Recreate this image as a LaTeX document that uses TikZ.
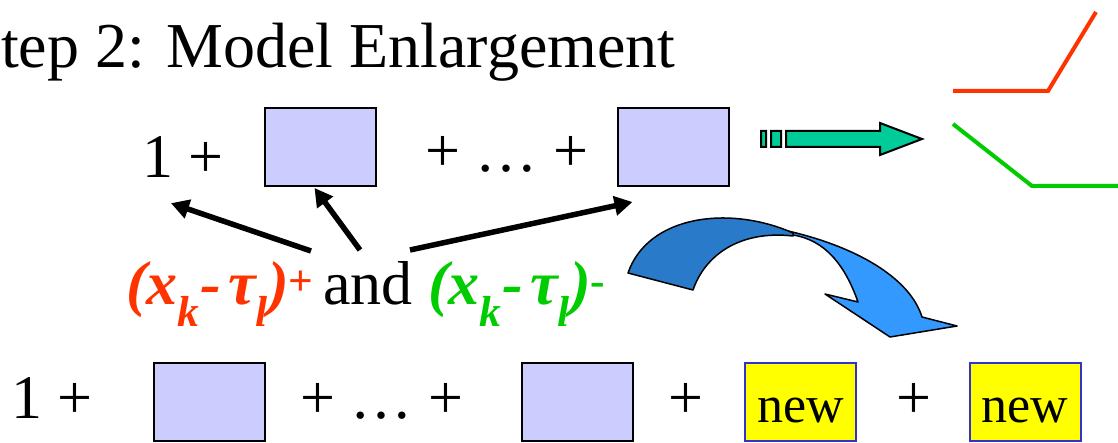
\documentclass[tikz,border=0pt]{standalone}
\usepackage{fontspec}
\setmainfont{Liberation Serif}
\usetikzlibrary{arrows.meta}
\definecolor{termfill}{HTML}{CCCCFF}
\definecolor{newedge}{HTML}{3333CC}
\definecolor{newfill}{HTML}{FFFF00}
\definecolor{exred}{HTML}{FF3300}
\definecolor{exgreen}{HTML}{00CC00}
\definecolor{teal}{HTML}{00CC99}
\definecolor{bluedark}{HTML}{2A7ACA}
\definecolor{bluelight}{HTML}{3399FF}
\newcommand{\hingeterm}[1]{{\bfseries\itshape (x\textsubscript{k}-\hspace{0.12em}τ\textsubscript{l})\textsuperscript{\upshape #1}}}
\begin{document}
\begin{tikzpicture}[x=1pt,y=-1pt,
  txt/.style={inner sep=0pt, anchor=base west, font=\fontsize{62}{70}\selectfont},
  term/.style={draw=black, line width=2pt, fill=termfill, minimum width=111pt, minimum height=78pt, inner sep=0pt},
  newterm/.style={draw=newedge, line width=2pt, fill=newfill, minimum width=111pt, inner sep=0pt,
     text height=59pt, text depth=19pt, anchor=base, font=\fontsize{52}{60}\selectfont},
  pointer/.style={line width=5.5pt, -{Triangle[length=18pt,width=19pt]}},
  hinge/.style={line width=4pt}
]
\useasboundingbox (0,0) rectangle (1118,443);

% title
\node[txt, font=\fontsize{64}{72}\selectfont] (title) at (1,68) {tep 2: Model Enlargement};

% top row
\node[txt] (topone) at (142,178) {1 +};
\node[term] (topbox1) at (320.5,147) {};
\node[txt] (topdots) at (425,172) {+ … +};
\node[term] (topbox2) at (673,147) {};

% teal arrow
\filldraw[fill=teal, draw=black, line width=2pt]
  (761,131) rectangle (766,147)
  (771,131) rectangle (781,147)
  (786,131) -- (880,131) -- (880,123) -- (922,139) -- (880,155) -- (880,147) -- (786,147) -- cycle;

% hinge functions
\draw[hinge, exred] (953,91) -- (1048,91) -- (1096,12);
\draw[hinge, exgreen] (953,124) -- (1032,186) -- (1118,186);

% middle expression
\node[txt, exred] (plus) at (126,305) {\hingeterm{+}};
\node[txt] (and) at (323,305) {and};
\node[txt, exgreen] (minus) at (428,305) {\hingeterm{-}};
\coordinate (t1) at (311,251);
\coordinate (t2) at (360,250);
\coordinate (t3) at (410,250);
\draw[pointer] (t1) -- ([xshift=-12pt,yshift=-25pt]topone.south);
\draw[pointer] (t2) -- ([xshift=-6pt,yshift=-1pt]topbox1.south);
\draw[pointer] (t3) -- ([xshift=16pt,yshift=-15pt]topbox2.south west);

% curved blue arrow
\filldraw[fill=bluelight, draw=black, line width=1.5pt, line join=round]
  (757,225) .. controls (840,238) and (908,272) .. (922,317)
  -- (957,326) -- (890,337) -- (825,294) -- (858,302)
  .. controls (845,265) and (825,240) .. (793,235) -- cycle;
\filldraw[fill=bluedark, draw=black, line width=1.5pt, line join=round]
  (628,273) .. controls (648,215) and (730,205) .. (793,233)
  -- (793,236) .. controls (740,230) and (705,255) .. (693,290) -- cycle;

% bottom row
\node[txt] (botone) at (11,418) {1 +};
\node[term] (botbox1) at (209,402) {};
\node[txt] (botdots) at (300,418) {+ … +};
\node[term] (botbox2) at (577,402) {};
\node[txt] (botplus1) at (668,418) {+};
\node[newterm] (new1) at (800.5,422) {new};
\node[txt] (botplus2) at (896,418) {+};
\node[newterm] (new2) at (1025,422) {new};
\end{tikzpicture}
\end{document}
